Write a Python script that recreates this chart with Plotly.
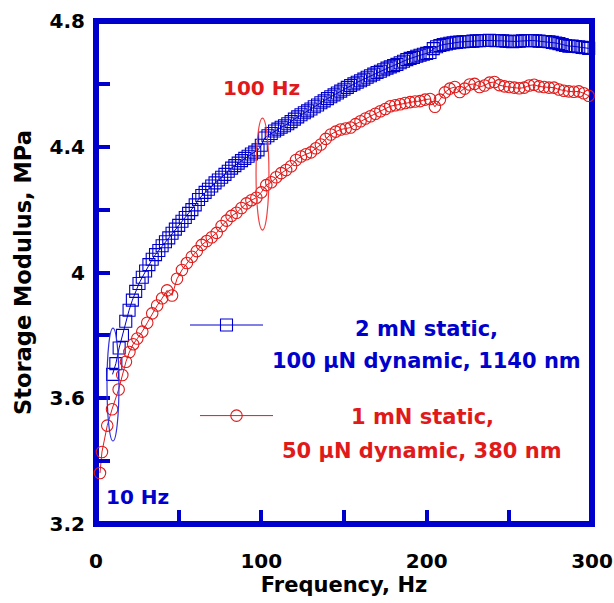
import plotly.graph_objects as go

# ---------------- data ----------------
blue_freq = [10, 12, 14, 16, 18, 20, 22, 24, 26, 28, 30, 32, 34, 36, 38, 40, 42, 44, 46, 48,
             50, 52, 54, 56, 58, 60, 62, 64, 66, 68, 70, 72, 74, 76, 78, 80, 82, 84, 86, 88,
             90, 92, 94, 96, 98, 100, 102, 104, 106, 108, 110, 112, 114, 116, 118, 120, 122, 124, 126, 128,
             130, 132, 134, 136, 138, 140, 142, 144, 146, 148, 150, 152, 154, 156, 158, 160, 162, 164, 166, 168,
             170, 172, 174, 176, 178, 180, 182, 184, 186, 188, 190, 192, 194, 196, 198, 200, 202, 204, 206, 208,
             210, 212, 214, 216, 218, 220, 222, 224, 226, 228, 230, 232, 234, 236, 238, 240, 242, 244, 246, 248,
             250, 252, 254, 256, 258, 260, 262, 264, 266, 268, 270, 272, 274, 276, 278, 280, 282, 284, 286, 288,
             290, 292, 294, 296, 298]
blue_mod = [3.676, 3.71, 3.76, 3.80, 3.845, 3.88, 3.912, 3.94, 3.965, 3.985, 4.005, 4.025, 4.042, 4.057, 4.07, 4.085, 4.098, 4.11, 4.125, 4.138,
            4.15, 4.163, 4.175, 4.188, 4.2, 4.215, 4.232, 4.245, 4.255, 4.265, 4.275, 4.285, 4.294, 4.303, 4.312, 4.322, 4.332, 4.34, 4.348, 4.356,
            4.363, 4.37, 4.377, 4.383, 4.39, 4.405, 4.428, 4.435, 4.442, 4.45, 4.456, 4.462, 4.467, 4.473, 4.48, 4.488, 4.495, 4.502, 4.508, 4.514,
            4.52, 4.527, 4.533, 4.54, 4.546, 4.553, 4.559, 4.565, 4.571, 4.577, 4.583, 4.589, 4.595, 4.6, 4.605, 4.61, 4.615, 4.621, 4.626, 4.631,
            4.636, 4.64, 4.645, 4.65, 4.654, 4.658, 4.662, 4.667, 4.672, 4.677, 4.681, 4.684, 4.688, 4.691, 4.694, 4.697, 4.7, 4.712, 4.718, 4.722,
            4.725, 4.727, 4.729, 4.731, 4.732, 4.733, 4.734, 4.735, 4.735, 4.736, 4.737, 4.737, 4.738, 4.738, 4.739, 4.738, 4.737, 4.738, 4.737, 4.736,
            4.735, 4.734, 4.735, 4.736, 4.737, 4.738, 4.737, 4.738, 4.737, 4.736, 4.735, 4.735, 4.734, 4.732, 4.73, 4.728, 4.725, 4.722, 4.72, 4.72,
            4.719, 4.718, 4.716, 4.715, 4.713]

red_freq = [2.4, 3.6, 6.8, 9.7, 13.7, 15.9, 18.1, 20.2, 22.5, 25, 28, 31, 34, 37, 40, 43, 46, 49,
            52, 55, 58, 61, 64, 67, 70, 73, 76, 79, 82, 85, 88, 91, 94, 97, 100, 103, 106, 109,
            112, 115, 118, 121, 124, 127, 130, 133, 136, 139, 142, 145, 148, 151, 154, 157, 160, 163, 166, 169,
            172, 175, 178, 181, 184, 187, 190, 193, 196, 199, 202, 205, 208, 211, 214, 217, 220, 223, 226, 229,
            232, 235, 238, 241, 244, 247, 250, 253, 256, 259, 262, 265, 268, 271, 274, 277, 280, 283, 286, 289,
            292, 295, 298]
red_mod = [3.362, 3.429, 3.513, 3.565, 3.628, 3.674, 3.716, 3.747, 3.772, 3.79, 3.812, 3.84, 3.87, 3.895, 3.918, 3.943, 3.927, 3.98,
           4.008, 4.03, 4.05, 4.068, 4.088, 4.1, 4.112, 4.126, 4.148, 4.165, 4.18, 4.19, 4.205, 4.22, 4.23, 4.238, 4.255, 4.278, 4.287, 4.303,
           4.316, 4.326, 4.338, 4.358, 4.369, 4.376, 4.382, 4.395, 4.407, 4.425, 4.439, 4.448, 4.455, 4.458, 4.461, 4.472, 4.481, 4.49, 4.497, 4.505,
           4.513, 4.52, 4.529, 4.532, 4.535, 4.539, 4.542, 4.544, 4.545, 4.55, 4.552, 4.527, 4.55, 4.573, 4.585, 4.59, 4.574, 4.585, 4.598, 4.6,
           4.59, 4.595, 4.604, 4.606, 4.596, 4.592, 4.59, 4.588, 4.586, 4.588, 4.595, 4.597, 4.592, 4.59, 4.588, 4.588, 4.582, 4.578, 4.576, 4.575,
           4.576, 4.57, 4.562]

x_tickvals = [0, 100, 200, 300]
x_ticktext = ["0", "100", "200", "300"]
y_tickvals = [3.2, 3.6, 4.0, 4.4, 4.8]
y_ticktext = ["3.2", "3.6", "4", "4.4", "4.8"]

blue_label = ["2 mN static,", "100 \u03bcN dynamic, 1140 nm"]
red_label = ["1 mN static,", "50 \u03bcN dynamic, 380 nm"]

# ---------------- style ----------------
BLUE = "#0000cc"
RED = "#e01a1a"
FONT = "DejaVu Sans"
W, H = 614, 603
L, R, T, B = 96, 22, 21, 79
PW, PH = W - L - R, H - T - B

fig = go.Figure()

fig.add_trace(go.Scatter(
    x=blue_freq, y=blue_mod, mode="lines+markers", name=" ",
    line=dict(color=BLUE, width=1),
    marker=dict(symbol="square-open", size=12, color=BLUE, line=dict(width=1.1, color=BLUE)),
    cliponaxis=False, legend="legend",
))
fig.add_trace(go.Scatter(
    x=red_freq, y=red_mod, mode="lines+markers", name=" ",
    line=dict(color=RED, width=1),
    marker=dict(symbol="circle-open", size=11.5, color=RED, line=dict(width=1.1, color=RED)),
    cliponaxis=False, legend="legend2",
))

# frame
fig.add_shape(type="rect", xref="paper", yref="paper", x0=0, x1=1, y0=0, y1=1,
              line=dict(color=BLUE, width=6), layer="below")
# ellipses
fig.add_shape(type="circle", xref="x", yref="y", x0=6.65, x1=13.9, y0=3.464, y1=3.823,
              line=dict(color="#3030dd", width=1.2))
fig.add_shape(type="circle", xref="x", yref="y", x0=96.8, x1=104.6, y0=4.135, y1=4.491,
              line=dict(color="#f04040", width=1.2))

fig.add_annotation(x=100.4, y=4.587, text="100 Hz", showarrow=False,
                   font=dict(family=FONT, size=20, weight="bold", color=RED))
fig.add_annotation(x=25.1, y=3.287, text="10 Hz", showarrow=False,
                   font=dict(family=FONT, size=20, weight="bold", color=BLUE))
for txt, yy in zip(blue_label, [3.820, 3.718]):
    fig.add_annotation(x=199.6, y=yy, text=txt, showarrow=False,
                       font=dict(family=FONT, size=21, weight="bold", color=BLUE))
for txt, yy in zip(red_label, [3.540, 3.432]):
    fig.add_annotation(x=197.2, y=yy, text=txt, showarrow=False,
                       font=dict(family=FONT, size=21, weight="bold", color=RED))

axis_common = dict(
    showline=False, showgrid=False, zeroline=False, automargin=False,
    ticks="inside", ticklen=14, tickwidth=4, tickcolor=BLUE,
    tickfont=dict(family=FONT, size=20, weight="bold", color="black"),
)
fig.update_xaxes(range=[0, 300], tickvals=x_tickvals, ticktext=x_ticktext,
                 minor=dict(tickvals=[50, 150, 250], ticks="inside", ticklen=14, tickwidth=4, tickcolor=BLUE),
                 ticklabelstandoff=23,
                 title=dict(text="Frequency, Hz", font=dict(family=FONT, size=21, weight="bold", color="black"),
                            standoff=1),
                 **axis_common)
fig.update_yaxes(range=[3.2, 4.8], tickvals=y_tickvals, ticktext=y_ticktext,
                 minor=dict(tickvals=[3.4, 3.8, 4.2, 4.6], ticks="inside", ticklen=14, tickwidth=4, tickcolor=BLUE),
                 ticklabelstandoff=10,
                 title=dict(text="Storage Modulus, MPa", font=dict(family=FONT, size=22.5, weight="bold", color="black"),
                            standoff=11),
                 **axis_common)

leg_common = dict(bgcolor="rgba(0,0,0,0)", borderwidth=0, itemwidth=73, xanchor="left", yanchor="middle",
                  font=dict(family=FONT, size=12), itemclick=False, itemdoubleclick=False)
fig.update_layout(
    width=W, height=H,
    margin=dict(l=L, r=R, t=T, b=B, autoexpand=False),
    paper_bgcolor="white", plot_bgcolor="rgba(0,0,0,0)",
    showlegend=True,
    legend=dict(x=(185 - L) / PW, y=(H - B - 325) / PH, **leg_common),
    legend2=dict(x=(195 - L) / PW, y=(H - B - 415.6) / PH, **leg_common),
)

fig.write_html("out.html", config={"displayModeBar": False},
               post_script="document.body.style.margin='0';")
